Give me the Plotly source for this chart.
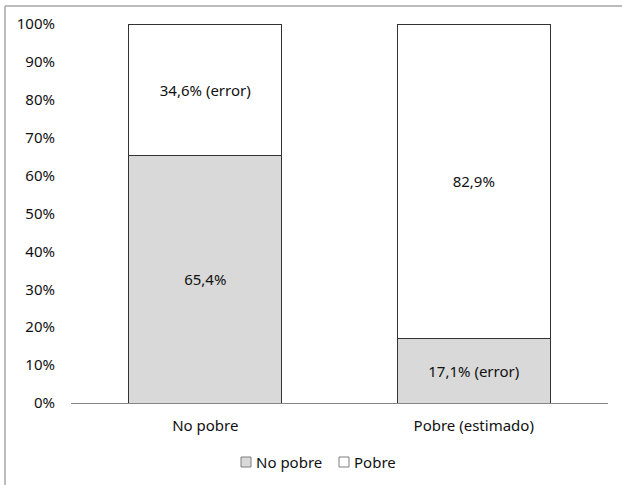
import plotly.graph_objects as go

categories = ["No pobre", "Pobre (estimado)"]
no_pobre = [65.4, 17.1]
pobre = [34.6, 82.9]
no_pobre_tags = ["", " (error)"]
pobre_tags = [" (error)", ""]
y_ticks = list(range(0, 101, 10))
series_names = ["No pobre", "Pobre"]
series_colors = ["#d9d9d9", "#ffffff"]


def fmt(v, tag):
    return f"{v:.1f}".replace(".", ",") + "%" + tag


FONT = "Noto Sans"
FS = 15
TXT = "#111111"
EDGE = "#333333"

# plot area in pixels
L, R, T, B = 71, 608, 24, 403
W, H = R - L, B - T


def px(x):
    return (x - L) / W


def py(y):
    return (B - y) / H


fig = go.Figure()
for name, vals, tags, color in zip(series_names, [no_pobre, pobre],
                                   [no_pobre_tags, pobre_tags], series_colors):
    fig.add_trace(go.Bar(
        name=name, x=categories, y=vals,
        marker=dict(color=color, line=dict(color=EDGE, width=1)),
        text=[fmt(v, t) for v, t in zip(vals, tags)],
        textposition="inside", insidetextanchor="middle",
        textfont=dict(family=FONT, size=FS, color=TXT),
        hoverinfo="skip", showlegend=False,
    ))

fig.update_layout(
    width=622, height=485,
    margin=dict(l=L, r=622 - R, t=T, b=485 - B),
    paper_bgcolor="white", plot_bgcolor="white",
    barmode="stack", bargap=0.43,
    font=dict(family=FONT, size=FS, color=TXT),
    xaxis=dict(showline=True, linecolor="#868686", linewidth=1, ticks="",
               ticklabelstandoff=9,
               tickfont=dict(family=FONT, size=FS, color=TXT), showgrid=False),
    yaxis=dict(range=[0, 100], tickvals=y_ticks, ticktext=[f"{v}%" for v in y_ticks],
               showgrid=False, showline=False, zeroline=False, ticks="",
               ticklabelstandoff=15,
               tickfont=dict(family=FONT, size=FS, color=TXT)),
)

# legend: small outlined squares followed by the series name
legend_items = [(241, 255), (339, 353)]
for (sq_x, tx_x), name, color in zip(legend_items, series_names, series_colors):
    fig.add_shape(type="rect", xref="paper", yref="paper",
                  x0=px(sq_x), x1=px(sq_x + 10), y0=py(457), y1=py(467),
                  fillcolor=color, line=dict(color="#7f7f7f", width=1))
    fig.add_annotation(xref="paper", yref="paper", x=px(tx_x - 1), y=py(462),
                       xanchor="left", yanchor="middle", showarrow=False,
                       text=name, font=dict(family=FONT, size=FS, color=TXT))

# chart frame (top and left edges visible)
fig.add_shape(type="line", xref="paper", yref="paper",
              x0=px(5), x1=px(622), y0=py(6), y1=py(6),
              line=dict(color="#a6a6a6", width=1.5))
fig.add_shape(type="line", xref="paper", yref="paper",
              x0=px(5), x1=px(5), y0=py(6), y1=py(485),
              line=dict(color="#a6a6a6", width=1.5))

fig.write_html("out.html")
